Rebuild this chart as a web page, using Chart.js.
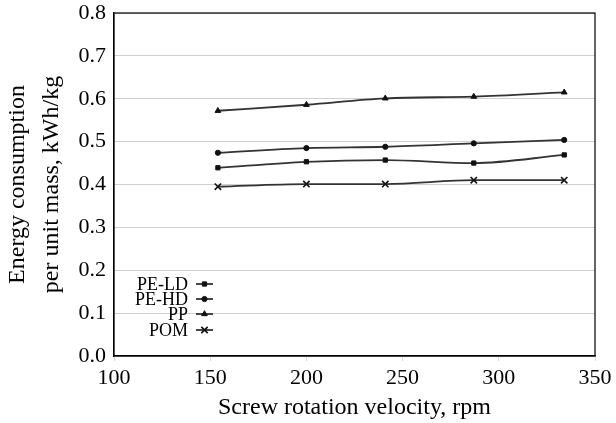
<!DOCTYPE html>
<html><head><meta charset="utf-8">
<script src="https://cdn.jsdelivr.net/npm/chart.js@4/dist/chart.umd.min.js"></script>
<style>html,body{margin:0;padding:0;background:#fff}#wrap{width:616px;height:423px}</style>
</head><body><div id="wrap"><canvas id="c" width="616" height="423"></canvas></div>
<script>
const rpm = [154, 200, 241, 287, 334];
const peLD = [0.439, 0.453, 0.457, 0.450, 0.469];
const peHD = [0.474, 0.485, 0.488, 0.496, 0.504];
const pp = [0.572, 0.586, 0.601, 0.605, 0.615];
const pom = [0.395, 0.401, 0.401, 0.410, 0.410];
const seriesNames = ['PE-LD', 'PE-HD', 'PP', 'POM'];
const markers = ['rect', 'circle', 'triangle', 'crossRot'];
const xTicks = [100, 150, 200, 250, 300, 350];
const yTicks = [0, 0.1, 0.2, 0.3, 0.4, 0.5, 0.6, 0.7, 0.8];

const FONT = '"Liberation Serif", "DejaVu Serif", serif';
const lineCol = '#333';
const allVals = [peLD, peHD, pp, pom];
const radii = [3, 2.6, 3.3, 4.5];
const datasets = allVals.map((v, i) => ({
  label: seriesNames[i],
  data: rpm.map((x, j) => ({x, y: v[j]})),
  borderColor: lineCol,
  backgroundColor: '#111',
  pointBorderColor: '#111',
  pointBackgroundColor: '#111',
  pointStyle: markers[i],
  pointRadius: radii[i],
  pointBorderWidth: i === 3 ? 1.6 : 1,
  borderWidth: 1.8,
  tension: 0.4,
  cubicInterpolationMode: 'monotone'
}));

const boxPlugin = {
  id: 'box',
  afterDraw(chart) {
    const {ctx, chartArea: a} = chart;
    ctx.save();
    ctx.strokeStyle = '#000';
    ctx.lineWidth = 1.2;
    ctx.strokeRect(a.left, a.top, a.right - a.left, a.bottom - a.top);
    // legend
    ctx.font = '18px ' + FONT;
    ctx.textAlign = 'right';
    ctx.textBaseline = 'middle';
    const ys = [284, 299, 314, 330];
    chart.data.datasets.forEach((ds, i) => {
      const y = ys[i];
      ctx.fillStyle = '#000';
      ctx.fillText(ds.label, 188, y + 1);
      ctx.strokeStyle = lineCol;
      ctx.lineWidth = 1.8;
      ctx.beginPath(); ctx.moveTo(196, y); ctx.lineTo(213, y); ctx.stroke();
      ctx.fillStyle = '#111'; ctx.strokeStyle = '#111';
      ctx.lineWidth = ds.pointBorderWidth;
      Chart.helpers.drawPoint(ctx, {
        pointStyle: ds.pointStyle, radius: ds.pointRadius, borderWidth: ds.pointBorderWidth, rotation: 0
      }, 204.5, y);
    });
    ctx.restore();
  }
};

new Chart(document.getElementById('c'), {
  type: 'line',
  data: {datasets},
  plugins: [boxPlugin],
  options: {
    responsive: false,
    animation: false,
    layout: {padding: {top: 13, right: 21, left: 0, bottom: 0}},
    plugins: {legend: {display: false}, tooltip: {enabled: false}},
    scales: {
      x: {
        type: 'linear', min: 100, max: 350,
        afterBuildTicks(s) { s.ticks = xTicks.map(v => ({value: v})); },
        afterFit(s) { s.height = 67; s.paddingLeft = 0; s.paddingRight = 0; },
        grid: {display: true, drawOnChartArea: false, tickLength: 5, color: '#ddd'},
        border: {display: true, color: '#000', width: 1.2},
        ticks: {color: '#000', font: {family: FONT, size: 22}, padding: 4, maxRotation: 0},
        title: {display: true, text: 'Screw rotation velocity, rpm', color: '#000',
          font: {family: FONT, size: 24, lineHeight: 1}, padding: {top: 0, bottom: 3}}
      },
      y: {
        min: 0, max: 0.8,
        afterBuildTicks(s) { s.ticks = yTicks.map(v => ({value: v})); },
        afterFit(s) { s.width = 114; s.paddingTop = 0; s.paddingBottom = 0; },
        grid: {color: '#d0d0d0', lineWidth: 1, drawTicks: false},
        border: {display: true, color: '#000', width: 1.2},
        ticks: {color: '#000', font: {family: FONT, size: 22}, padding: 8,
          callback: v => v.toFixed(1)},
        title: {display: true, text: ['Energy consumption', 'per unit mass, kWh/kg'], color: '#000',
          font: {family: FONT, size: 24, lineHeight: 1.45}, padding: {top: 0, bottom: 0}}
      }
    }
  }
});
</script></body></html>
